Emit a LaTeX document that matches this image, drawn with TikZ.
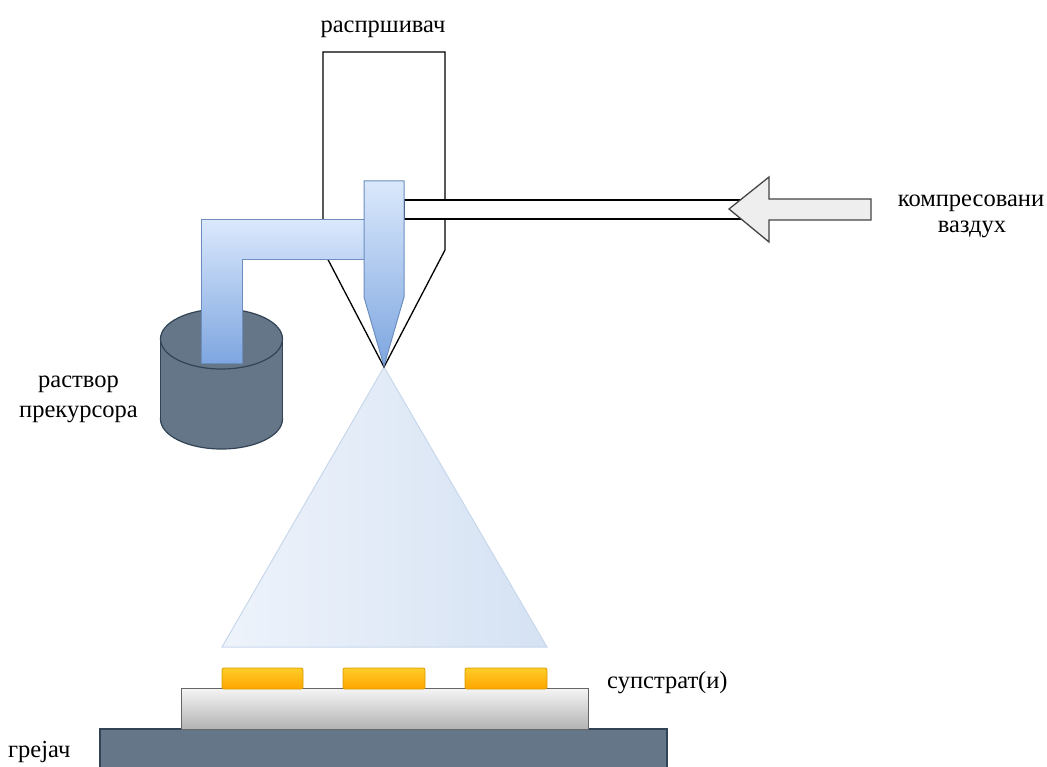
\documentclass[tikz,border=0pt]{standalone}
\usepackage{fontspec}
\setmainfont{Liberation Serif}
\begin{document}
\begin{tikzpicture}[x=1pt,y=-1pt,line join=miter]
\definecolor{pipeTop}{HTML}{DAE8FC}
\definecolor{pipeBot}{HTML}{7EA6E0}
\definecolor{pipeLine}{HTML}{6C8EBF}
\definecolor{tankFill}{HTML}{647687}
\definecolor{tankLine}{HTML}{314354}
\definecolor{padTop}{HTML}{FFCD28}
\definecolor{padBot}{HTML}{FFA500}
\definecolor{padLine}{HTML}{D79B00}
\definecolor{plateTop}{HTML}{F5F5F5}
\definecolor{plateBot}{HTML}{B3B3B3}
\definecolor{plateLine}{HTML}{666666}
\definecolor{sprayL}{HTML}{EEF3FB}
\definecolor{sprayR}{HTML}{D5E2F3}
\definecolor{sprayLine}{HTML}{C7D7EC}
\definecolor{arrowFill}{HTML}{EEEEEE}
\definecolor{arrowLine}{HTML}{444444}
\tikzset{
  lbl/.style={font=\fontsize{24.5}{28}\selectfont, inner sep=0pt, anchor=base},
  pipe/.style={draw=pipeLine, line width=1pt, top color=pipeTop, bottom color=pipeBot},
  tank/.style={fill=tankFill, draw=tankLine, line width=1.2pt},
  pad/.style={draw=padLine, line width=0.8pt, top color=padTop, bottom color=padBot, rounded corners=2pt}
}
\useasboundingbox (0,0) rectangle (1047,767);

% spray cone
\shadedraw[left color=sprayL, right color=sprayR, draw=sprayLine, line width=1pt]
  (384,367) -- (547,647) -- (222,647) -- cycle;

% sprayer body
\filldraw[fill=white, draw=black, line width=1.3pt]
  (323,52) -- (445,52) -- (445,250) -- (384,367) -- (323,250) -- cycle;

% compressed-air tube
\filldraw[fill=white, draw=black, line width=1.3pt] (404,200) rectangle (745,219);

% precursor tank
\filldraw[tank] (221.5,419) ellipse [x radius=61, y radius=30];
\fill[tankFill] (160.5,339) rectangle (282.5,419);
\draw[tankLine, line width=1.2pt] (160.5,339) -- (160.5,419) (282.5,339) -- (282.5,419);
\filldraw[tank] (221.5,339) ellipse [x radius=61, y radius=30];

% feed pipe
\shadedraw[pipe] (201,220) -- (364,220) -- (364,260) -- (242,260) -- (242,363) -- (201,363) -- cycle;

% nozzle
\shadedraw[pipe] (364,181) -- (404,181) -- (404,297) -- (384,366) -- (364,297) -- cycle;

% air inlet arrow
\filldraw[fill=arrowFill, draw=arrowLine, line width=1.3pt]
  (729,209) -- (769,177) -- (769,199) -- (871,199) -- (871,220) -- (769,220) -- (769,242) -- cycle;

% heater and substrate
\filldraw[tank] (100,729) rectangle (667,772);
\shadedraw[top color=plateTop, bottom color=plateBot, draw=plateLine, line width=1pt] (181,688) rectangle (588,729);
\shadedraw[pad] (222,668) rectangle (303,689);
\shadedraw[pad] (343,668) rectangle (425,689);
\shadedraw[pad] (465,668) rectangle (547,689);

% labels
\node[lbl] (sprayer) at (383,33) {распршивач};
\node[lbl] (air1) at (971,207) {компресовани};
\node[lbl] (air2) at (972,233) {ваздух};
\node[lbl] (sol1) at (78.5,388) {раствор};
\node[lbl] (sol2) at (78.5,417) {прекурсора};
\node[lbl, anchor=base west] (substrate) at (607,688) {супстрат(и)};
\node[lbl, anchor=base west] (heater) at (8,757) {грејач};
\end{tikzpicture}
\end{document}
